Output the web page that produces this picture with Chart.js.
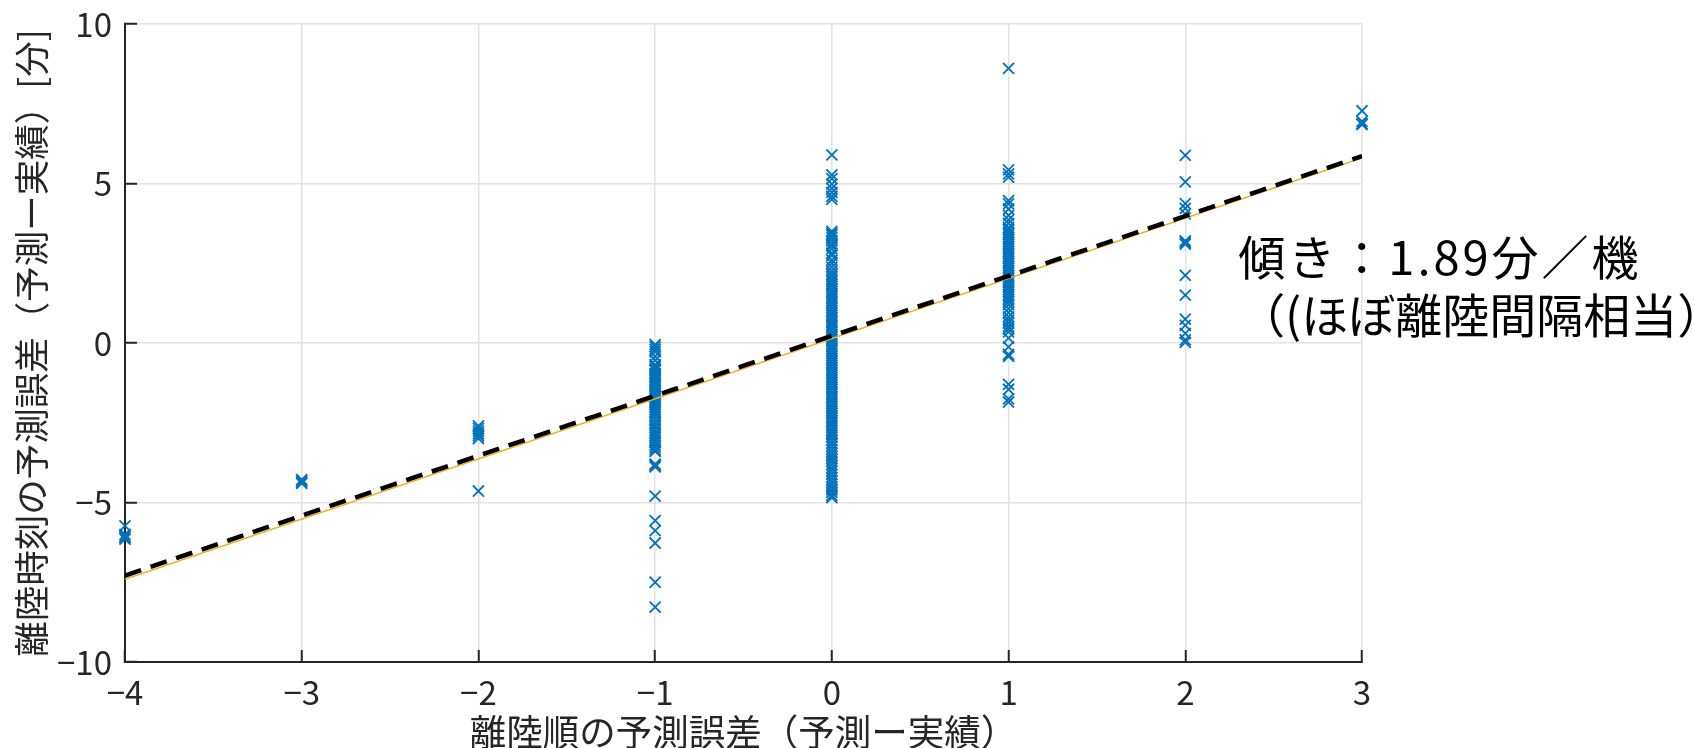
<!DOCTYPE html>
<html lang="ja">
<head>
<meta charset="utf-8">
<title>離陸順の予測誤差と離陸時刻の予測誤差</title>
<script src="https://cdn.jsdelivr.net/npm/chart.js@4.4.0/dist/chart.umd.min.js"></script>
<style>
  html, body { margin: 0; padding: 0; background: #fff; }
  #chart { display: block; }
</style>
</head>
<body>
<canvas id="chart" width="1694" height="748"></canvas>
<script>
// x categories (takeoff-order error) and the y values
const xCategories = [-4, -3, -2, -1, 0, 1, 2, 3];

const errAtMinus4 = [-5.73, -6.0, -6.06, -6.1, -6.15];
const errAtMinus3 = [-4.28, -4.32, -4.36, -4.4];
const errAtMinus2 = [-2.6, -2.68, -2.77, -2.85, -2.92, -3.0, -4.64];
const errAtMinus1 = [
  -0.05, -0.12, -0.2, -0.28, -0.42, -0.54,
  -0.68, -0.74, -0.81, -0.87, -0.95, -1.02, -1.08, -1.16, -1.23, -1.3, -1.36, -1.44,
  -1.51, -1.58, -1.66, -1.72, -1.79, -1.87, -1.93, -2.01, -2.08, -2.15, -2.22, -2.3,
  -2.4, -2.5, -2.58, -2.66, -2.75, -2.83, -2.9, -2.97, -3.05, -3.12, -3.2, -3.27, -3.35, -3.4,
  -3.8, -3.84, -3.88, -4.8, -5.57, -5.88, -6.27, -7.5, -8.28
];
const errAtZero = [
  5.9, 5.27, 5.15, 4.98, 4.85, 4.72, 4.6, 4.5,
  3.5, 3.44, 3.38, 3.3, 3.2, 3.1, 3.05, 2.95, 2.82, 2.75, 2.6, 2.5, 2.38, 2.25,
  2.15, 2.08, 2.0, 1.93, 1.85, 1.78, 1.7, 1.62, 1.55, 1.47, 1.4, 1.32, 1.25, 1.17,
  1.1, 1.02, 0.95, 0.87, 0.8, 0.72, 0.65, 0.57, 0.5, 0.42, 0.35, 0.27, 0.2, 0.12,
  0.05, -0.03, -0.1, -0.18, -0.25, -0.33, -0.4, -0.48, -0.55, -0.63, -0.7, -0.78,
  -0.85, -0.93, -1.0, -1.08, -1.15, -1.23, -1.3, -1.38, -1.45, -1.53, -1.6, -1.68,
  -1.75, -1.83, -1.9, -1.98, -2.05, -2.13, -2.2, -2.28, -2.35, -2.43, -2.5, -2.58,
  -2.65, -2.73, -2.8, -2.88, -2.95,
  -3.05, -3.15, -3.25, -3.35, -3.45, -3.55, -3.63, -3.72, -3.82, -3.92, -4.02,
  -4.12, -4.22, -4.32, -4.42, -4.52, -4.6, -4.68, -4.78, -4.85
];
const errAtOne = [
  8.61, 5.43, 5.3, 5.2, 4.46, 4.36, 4.2, 4.0, 3.86, 3.75,
  3.62, 3.55, 3.47, 3.4, 3.32, 3.25, 3.17, 3.1, 3.02, 2.95, 2.87, 2.8, 2.72, 2.65,
  2.57, 2.5, 2.42, 2.35, 2.27, 2.2, 2.12, 2.05, 1.97, 1.9, 1.82, 1.75, 1.67, 1.6,
  1.52, 1.45, 1.37, 1.3, 1.2, 1.08, 0.95, 0.82, 0.72, 0.62, 0.52, 0.44, 0.35,
  0.15, -0.12, -0.36, -0.42, -1.3, -1.45, -1.75, -1.85
];
const errAtTwo = [5.88, 5.05, 4.37, 4.22, 4.05, 3.2, 3.15, 3.1, 2.12, 1.5, 0.75, 0.55, 0.3, 0.1, 0.02];
const errAtThree = [7.28, 6.95, 6.88, 6.85];

const errGroups = [errAtMinus4, errAtMinus3, errAtMinus2, errAtMinus1, errAtZero, errAtOne, errAtTwo, errAtThree];

// fitted lines (end points)
const fitX = [-4, 3];
const fitDashedY = [-7.29, 5.86];
const fitSolidY = [-7.41, 5.8];

// axis ticks
const xTicks = [-4, -3, -2, -1, 0, 1, 2, 3];
const yTicks = [-10, -5, 0, 5, 10];

const xTitle = "離陸順の予測誤差（予測ー実績）";
const yTitle = "離陸時刻の予測誤差（予測ー実績）[分]";
const noteLines = ["傾き：1.89分／機", "（(ほぼ離陸間隔相当）"];
const noteX = 2.3;
const noteY = [2.69, 0.87];

//------------------------------------------------------------------------
const FONT = '"Noto Sans CJK JP", "Noto Sans", sans-serif';
const AXIS_COLOR = "#262626";

const scatterPoints = [];
xCategories.forEach((xv, i) => {
  errGroups[i].forEach((yv) => scatterPoints.push({ x: xv, y: yv }));
});

function toLine(ys) {
  return fitX.map((xv, i) => ({ x: xv, y: ys[i] }));
}

function minusSign(v) {
  return String(v).replace("-", "\u2212");
}

const slopeNote = {
  id: "slopeNote",
  afterDatasetsDraw(chart) {
    const { ctx, scales } = chart;
    ctx.save();
    ctx.font = "47px " + FONT;
    ctx.fillStyle = "#000";
    ctx.textAlign = "left";
    ctx.textBaseline = "middle";
    noteLines.forEach((t, i) => {
      ctx.letterSpacing = i === 0 ? "3px" : "0px";
      ctx.fillText(t, scales.x.getPixelForValue(noteX), scales.y.getPixelForValue(noteY[i]));
    });
    ctx.restore();
  },
};

const gridOpts = {
  color: "#e2e2e2",
  lineWidth: 1.5,
  tickColor: AXIS_COLOR,
  tickWidth: 2,
  tickLength: -12,
};

new Chart(document.getElementById("chart"), {
  type: "scatter",
  data: {
    datasets: [
      {
        type: "line",
        data: toLine(fitDashedY),
        borderColor: "#000",
        borderWidth: 4.5,
        borderDash: [17, 10],
        pointRadius: 0,
        fill: false,
      },
      {
        type: "line",
        data: toLine(fitSolidY),
        borderColor: "#EDB120",
        borderWidth: 1.5,
        pointRadius: 0,
        fill: false,
      },
      {
        data: scatterPoints,
        pointStyle: "crossRot",
        pointRadius: 7.8,
        pointBorderWidth: 1.8,
        borderColor: "#0072BD",
        backgroundColor: "#0072BD",
        clip: false,
      },
    ],
  },
  options: {
    responsive: false,
    animation: false,
    devicePixelRatio: 1,
    layout: { padding: { top: 24, right: 332, left: 0, bottom: 0 } },
    plugins: { legend: { display: false }, tooltip: { enabled: false } },
    scales: {
      x: {
        type: "linear",
        position: "bottom",
        min: -4,
        max: 3,
        afterBuildTicks: (s) => { s.ticks = xTicks.map((v) => ({ value: v })); },
        ticks: {
          padding: 23,
          color: AXIS_COLOR,
          font: { family: FONT, size: 33 },
          maxRotation: 0,
          autoSkip: false,
          callback: minusSign,
        },
        grid: gridOpts,
        border: { display: true, color: AXIS_COLOR, width: 2 },
        title: {
          display: true,
          text: xTitle,
          color: AXIS_COLOR,
          font: { family: FONT, size: 36.5, lineHeight: 1 },
          padding: { top: 0, bottom: -2 },
        },
        afterFit: (s) => {
          s.height = 86;
          s.paddingLeft = 0;
          s.paddingRight = 0;
        },
      },
      y: {
        type: "linear",
        min: -10,
        max: 10,
        afterBuildTicks: (s) => { s.ticks = yTicks.map((v) => ({ value: v })); },
        ticks: {
          padding: 25,
          color: AXIS_COLOR,
          font: { family: FONT, size: 33 },
          autoSkip: false,
          callback: minusSign,
        },
        grid: gridOpts,
        border: { display: true, color: AXIS_COLOR, width: 2 },
        title: {
          display: true,
          text: yTitle,
          color: AXIS_COLOR,
          font: { family: FONT, size: 35.5, lineHeight: 1 },
          padding: { top: 14, bottom: 0 },
        },
        afterFit: (s) => {
          s.width = 125;
          s.paddingTop = 0;
          s.paddingBottom = 0;
        },
      },
    },
  },
  plugins: [slopeNote],
});
</script>
</body>
</html>
